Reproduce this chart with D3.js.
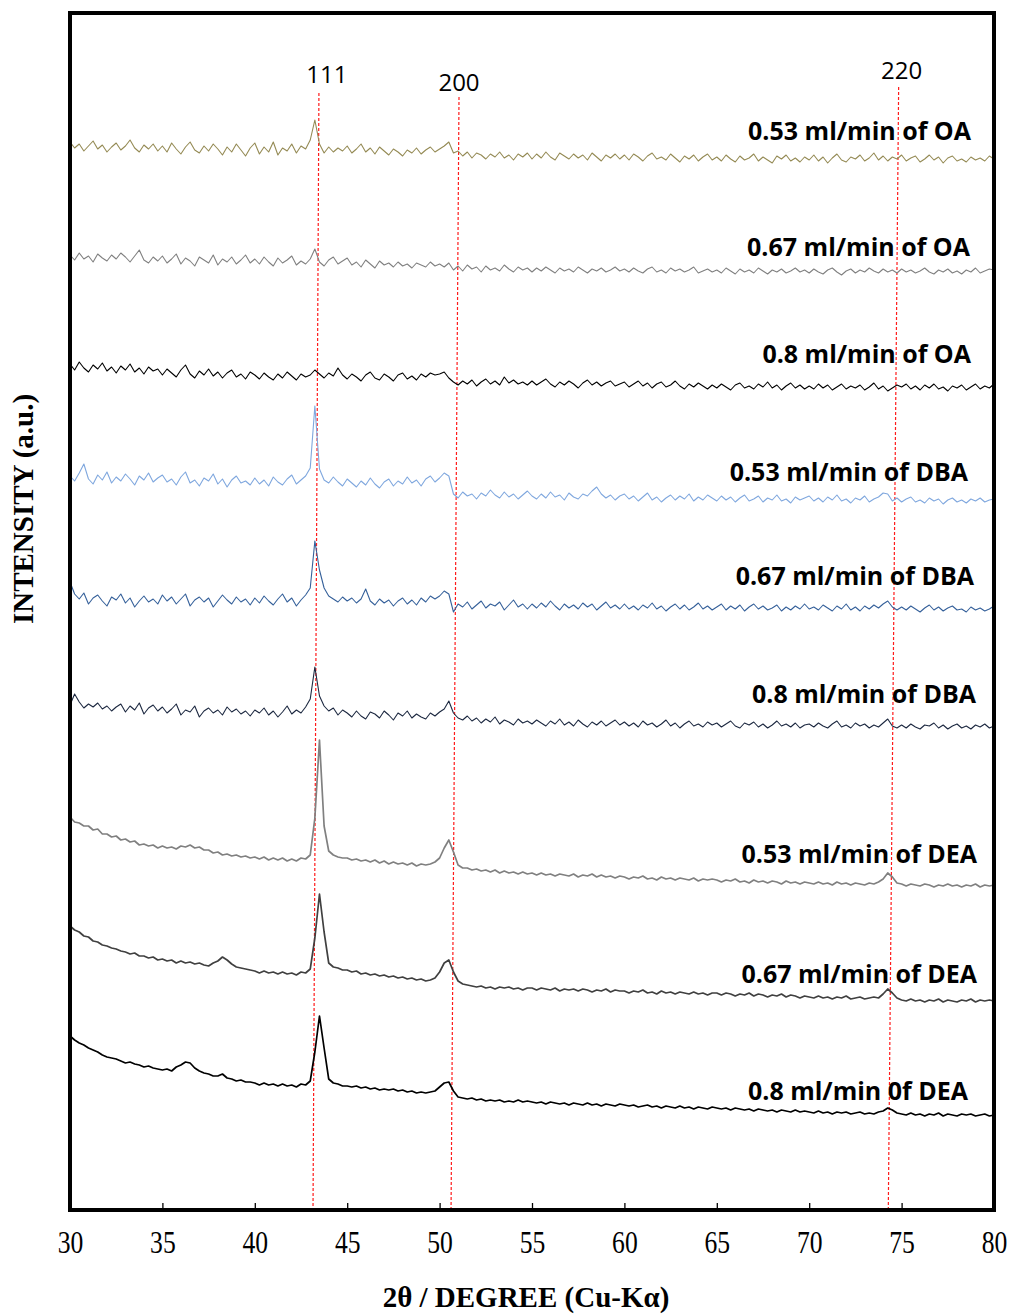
<!DOCTYPE html>
<html>

<head>
  <meta charset="utf8">
  <script src="https://d3js.org/d3.v7.min.js"></script>
  <style>
    body { margin: 0; background: #fff; }
    .tick text { font-family: "Liberation Serif", "Times New Roman", serif; fill: black; }
    .tick line { stroke: black; stroke-width: 1.3; }
    .series-label { font-family: "Open Sans", sans-serif; font-weight: 700; font-size: 25px; }
    .peak-label { font-family: "Open Sans", sans-serif; font-size: 24px; }
    .axis-title { font-family: "Liberation Serif", "Times New Roman", serif; font-weight: 700; }
  </style>
</head>

<body>
  <svg id="chart" width="1011" height="1314"></svg>

  <script>
    // 2-theta sampling of every pattern: 30 to 80 deg, 0.25 deg apart
    var twoThetaStart = 30;
    var twoThetaStep = 0.25;

    var seriesNames = [
      '0.53 ml/min of OA', '0.67 ml/min of OA', '0.8 ml/min of OA',
      '0.53 ml/min of DBA', '0.67 ml/min of DBA', '0.8 ml/min of DBA',
      '0.53 ml/min of DEA', '0.67 ml/min of DEA', '0.8 ml/min 0f DEA'
    ];

    // intensities (a.u., already stacked with their offsets)
    var oa053 = [
      1068,1062,1066,1059,1064,1069,1061,1065,1058,1063,1067,1060,1064,1070,1062,1058,1065,1061,1066,1059,
      1064,1058,1067,1061,1056,1063,1068,1060,1057,1064,1059,1066,1061,1055,1063,1058,1066,1060,1054,1062,
      1067,1056,1063,1058,1068,1055,1062,1059,1066,1057,1064,1061,1070,1090,1066,1057,1063,1058,1062,1059,
      1064,1057,1061,1066,1058,1062,1056,1063,1059,1055,1061,1058,1054,1060,1057,1062,1056,1060,1063,1058,
      1061,1064,1068,1057,1059,1054,1058,1052,1057,1055,1051,1056,1053,1058,1052,1055,1050,1056,1053,1057,
      1051,1056,1052,1058,1053,1050,1057,1054,1051,1056,1052,1055,1050,1057,1053,1049,1055,1052,1056,1051,
      1055,1050,1056,1053,1049,1054,1057,1051,1053,1050,1056,1052,1048,1054,1051,1055,1049,1053,1056,1050,
      1053,1049,1055,1051,1048,1054,1050,1052,1056,1049,1053,1050,1047,1054,1051,1055,1049,1052,1048,1053,
      1050,1055,1049,1053,1047,1052,1056,1050,1048,1053,1051,1055,1049,1052,1057,1050,1054,1049,1053,1051,
      1055,1049,1052,1054,1048,1051,1055,1050,1053,1047,1052,1054,1049,1051,1048,1053,1050,1052,1049,1054,1051
    ];
    var oa067 = [
      955,950,957,951,954,948,956,952,949,955,951,957,953,948,954,960,950,947,953,949,
      954,947,951,956,946,952,949,944,953,950,947,955,945,951,948,953,946,950,955,947,
      951,946,953,948,944,952,947,950,954,945,949,946,951,961,948,944,950,953,946,949,
      952,945,948,943,950,946,942,949,945,947,943,948,944,946,942,947,945,943,948,944,
      946,943,947,940,944,939,945,941,943,938,944,940,942,939,945,941,938,943,940,942,
      938,942,939,943,940,937,942,939,941,938,943,940,937,941,939,942,938,940,943,939,
      941,938,942,939,937,941,943,938,940,937,942,939,941,938,940,943,937,939,941,938,
      940,937,942,939,936,941,938,940,937,942,939,936,940,938,941,937,939,942,938,940,
      937,941,938,936,940,942,938,935,939,941,937,940,938,942,939,937,941,938,940,937,
      941,938,940,937,939,942,938,936,940,938,941,937,939,936,940,938,942,937,939,941,940
    ];
    var oa08 = [
      846,840,848,842,838,845,841,847,839,843,837,844,840,846,838,842,836,843,839,841,
      835,841,837,833,840,845,836,832,839,835,841,834,838,832,837,840,833,836,831,838,
      835,831,837,833,830,836,832,838,834,830,836,833,835,840,836,832,837,834,842,835,
      831,836,833,829,835,838,832,830,836,833,829,835,837,831,834,830,836,833,837,835,
      836,838,832,828,825,829,826,830,824,828,831,826,829,825,833,827,830,826,828,825,
      829,825,828,831,826,823,828,825,829,826,822,827,830,825,828,824,827,829,824,826,
      828,823,826,829,824,827,822,826,828,823,825,829,824,821,826,823,827,824,821,825,
      822,826,823,820,825,827,822,824,821,826,823,828,822,825,820,824,827,822,825,821,
      824,821,826,822,825,820,823,826,821,824,822,825,820,823,827,821,824,819,822,825,
      823,826,821,824,820,825,822,826,821,823,819,824,822,825,820,823,826,821,824,822,826
    ];
    var dba053 = [
      734,729,737,746,731,726,735,730,738,727,733,729,736,731,725,734,730,737,728,732,
      735,728,731,725,733,738,727,730,724,732,729,736,726,731,723,730,734,727,729,725,
      732,726,730,724,733,728,725,731,735,726,730,734,742,804,741,730,727,733,728,724,
      731,727,723,729,725,732,726,722,728,731,724,729,726,733,727,730,724,731,734,728,
      732,737,734,716,712,718,714,716,711,717,714,720,715,712,718,713,716,711,715,719,
      714,711,716,712,718,713,715,710,717,713,711,716,714,719,723,716,712,715,710,714,
      716,711,714,709,713,717,710,713,708,712,715,710,714,711,716,709,713,710,715,712,
      709,714,710,713,708,712,715,709,711,714,708,712,710,715,709,711,707,713,710,712,
      714,709,712,708,713,710,715,709,711,707,712,710,714,708,711,713,717,716,709,712,
      708,711,713,708,710,707,712,709,711,706,710,712,708,710,707,711,709,712,708,710,711
    ];
    var dba067 = [
      628,616,611,617,606,612,615,609,604,613,610,616,607,612,603,609,614,608,611,606,
      615,609,613,606,611,616,604,610,613,608,612,603,609,615,610,606,613,608,611,605,
      612,607,614,609,605,611,616,608,612,604,610,615,622,669,640,622,614,611,608,613,
      609,612,607,611,621,609,605,611,607,610,604,609,612,606,610,605,612,608,614,611,
      614,619,616,598,606,603,608,601,605,609,602,606,604,608,600,605,610,603,606,601,
      606,602,607,603,609,604,600,606,602,605,601,607,603,606,600,604,608,602,605,601,
      606,601,604,600,605,602,607,601,604,599,603,606,601,605,600,603,607,601,604,600,
      603,606,600,604,601,605,599,603,606,601,604,600,602,605,599,603,600,604,601,606,
      601,603,600,605,602,599,604,601,606,600,603,599,604,601,605,602,606,609,603,600,
      603,600,604,601,598,602,605,600,603,599,602,604,600,601,598,603,600,602,599,601,604
    ];
    var dba08 = [
      505,516,508,502,506,503,507,501,504,499,503,506,498,504,500,507,496,502,505,499,
      503,497,501,506,495,500,498,504,493,499,502,497,500,495,503,498,501,496,499,494,
      500,497,502,495,499,493,498,504,496,500,497,503,511,543,514,504,499,502,495,500,
      497,493,499,494,491,498,496,492,499,495,490,497,494,499,492,496,493,491,497,494,
      498,501,509,497,492,490,494,489,492,487,491,488,493,486,490,488,485,491,487,489,
      486,490,487,484,489,486,491,485,488,484,490,486,483,488,485,489,484,487,490,485,
      488,484,487,483,489,485,487,483,486,490,484,487,482,486,489,484,486,483,488,485,
      487,483,486,489,484,482,487,485,488,483,486,482,485,489,484,486,483,487,482,485,
      486,483,487,484,482,486,489,483,485,482,487,484,486,482,485,483,487,491,484,482,
      485,482,486,483,481,485,484,487,482,485,481,484,486,482,484,481,485,483,486,482,484
    ];
    var dea053 = [
      393,388,387,384,384,380,381,376,376,373,374,370,371,368,369,365,366,364,365,362,
      364,362,363,361,364,363,365,362,363,360,360,357,358,355,356,354,355,353,354,352,
      353,351,353,350,352,350,352,349,351,349,352,351,355,392,470,384,359,355,353,352,
      352,350,351,349,350,348,350,347,349,346,348,346,347,345,347,344,346,345,346,348,
      352,362,370,358,345,342,342,340,341,339,340,338,340,337,339,337,338,336,338,336,
      337,335,337,335,336,334,336,335,334,336,333,335,334,336,333,335,333,334,332,334,
      333,331,333,332,334,331,332,330,333,331,332,330,332,331,330,332,329,331,330,331,
      330,328,330,329,331,328,329,327,330,328,329,327,329,328,326,329,327,328,326,328,
      327,326,328,326,327,325,328,326,327,325,327,326,325,327,326,328,331,337,333,327,
      326,324,326,325,324,326,325,323,325,324,326,324,325,323,325,324,326,323,325,324,325
    ];
    var dea067 = [
      284,280,278,274,273,269,268,265,264,262,261,259,258,256,257,254,254,252,253,250,
      251,249,250,247,249,247,248,246,247,245,244,247,249,253,250,246,243,242,241,240,
      239,237,239,237,238,236,238,236,237,235,238,237,241,272,316,278,247,243,242,240,
      240,238,239,236,237,235,236,234,235,233,234,232,233,231,232,230,231,229,230,232,
      238,247,250,238,229,226,225,224,223,224,222,223,221,223,222,223,221,222,220,222,
      222,220,222,221,220,222,219,221,220,221,219,221,220,218,220,219,221,218,220,219,
      219,217,219,218,220,217,218,216,219,217,218,216,218,217,216,218,216,217,215,217,
      217,215,217,216,214,216,215,217,214,216,215,213,215,214,216,213,215,214,212,214,
      213,212,214,212,213,211,213,212,214,211,212,213,211,212,213,212,216,221,217,212,
      210,209,211,209,210,208,210,209,211,208,210,209,208,210,209,211,208,210,209,210,209
    ];
    var dea08 = [
      174,170,167,165,162,160,158,155,153,152,151,149,147,148,146,145,143,144,142,141,
      140,141,139,143,145,148,147,142,139,137,136,134,134,136,132,131,129,130,128,128,
      127,125,127,125,126,124,126,124,125,123,126,125,129,158,194,162,131,127,126,124,
      124,123,124,122,123,121,122,120,121,120,121,119,120,118,119,117,118,117,118,119,
      123,127,128,119,113,112,111,112,110,111,109,110,109,110,108,109,108,110,108,109,
      108,107,108,106,108,107,106,107,105,107,106,105,107,105,106,104,106,105,104,106,
      105,104,105,103,104,105,103,104,102,104,103,102,104,102,103,101,103,102,101,103,
      102,101,102,100,102,101,100,101,99,101,100,99,100,98,100,99,98,100,98,99,
      98,97,99,97,98,96,98,97,98,96,97,98,96,97,96,98,99,102,100,97,
      96,95,97,95,96,94,96,95,97,94,96,95,94,96,95,96,94,95,96,94,95
    ];
    var seriesValues = [oa053, oa067, oa08, dba053, dba067, dba08, dea053, dea067, dea08];

    var xTicks = [30, 35, 40, 45, 50, 55, 60, 65, 70, 75, 80];

    // Cu reflections marked by the red guide lines (2-theta at top and at bottom)
    var peakLabels = ['111', '200', '220'];
    var peakThetaTop = [43.47, 51.05, 74.84];
    var peakThetaBottom = [43.15, 50.62, 74.28];
    var peakTopIntensity = [1117, 1113, 1123];

    // ---- drawing ----
    var chart = d3.select('#chart');
    var margin = { top: 13, right: 17, bottom: 104, left: 70 };
    var width = 1011 - margin.left - margin.right;
    var height = 1314 - margin.top - margin.bottom;

    var x = d3.scaleLinear().domain([30, 80]).range([0, width]);
    var y = d3.scaleLinear().domain([0, height]).range([height, 0]);

    var colors = ['#948a54', '#808080', '#000000', '#7fa7de', '#35609a', '#1c2840', '#808080', '#404040', '#000000'];
    var widths = [1.1, 1.1, 1.1, 1.1, 1.1, 1.1, 1.7, 1.7, 1.7];
    // label anchors (right end, baseline) in px inside the plot
    var labelPos = [[901, 127], [900, 243], [901, 350], [898, 468], [904, 572], [906, 690], [907, 850], [907, 970], [898, 1087]];
    var peakLabelShift = [[8, -10], [0, -6], [3, -8]];

    var g = chart.append('g')
      .attr('transform', 'translate(' + margin.left + ',' + margin.top + ')');

    var line = d3.line()
      .x((d, i) => x(twoThetaStart + i * twoThetaStep))
      .y((d) => y(d));

    // guide lines
    g.selectAll('line.guide')
      .data(peakLabels)
      .enter()
      .append('line')
      .attr('class', 'guide')
      .attr('x1', (d, i) => x(peakThetaTop[i]))
      .attr('y1', (d, i) => y(peakTopIntensity[i]))
      .attr('x2', (d, i) => x(peakThetaBottom[i]))
      .attr('y2', height)
      .attr('stroke', '#ff1a1a')
      .attr('stroke-width', 1.2)
      .attr('stroke-dasharray', '3,2');

    g.selectAll('text.peak-label')
      .data(peakLabels)
      .enter()
      .append('text')
      .attr('class', 'peak-label')
      .attr('x', (d, i) => x(peakThetaTop[i]) + peakLabelShift[i][0])
      .attr('y', (d, i) => y(peakTopIntensity[i]) + peakLabelShift[i][1])
      .attr('text-anchor', 'middle')
      .text((d) => d);

    g.selectAll('path.pattern')
      .data(seriesValues)
      .enter()
      .append('path')
      .attr('class', 'pattern')
      .attr('d', line)
      .attr('fill', 'none')
      .attr('stroke', (d, i) => colors[i])
      .attr('stroke-width', (d, i) => widths[i])
      .attr('stroke-linejoin', 'round');

    g.selectAll('text.series-label')
      .data(seriesNames)
      .enter()
      .append('text')
      .attr('class', 'series-label')
      .attr('x', (d, i) => labelPos[i][0])
      .attr('y', (d, i) => labelPos[i][1])
      .attr('text-anchor', 'end')
      .text((d) => d);

    // x axis: ticks pointing inward
    var xAxis = g.append('g')
      .attr('transform', 'translate(0,' + height + ')')
      .call(d3.axisBottom(x).tickValues(xTicks).tickSizeInner(-7).tickSizeOuter(0).tickPadding(20));
    xAxis.select('.domain').remove();
    xAxis.selectAll('.tick text')
      .attr('font-size', 32)
      .attr('transform', 'scale(0.8,1)');

    // frame
    g.append('rect')
      .attr('width', width)
      .attr('height', height)
      .attr('fill', 'none')
      .attr('stroke', 'black')
      .attr('stroke-width', 4);

    chart.append('text')
      .attr('class', 'axis-title')
      .attr('x', 526)
      .attr('y', 1307)
      .attr('text-anchor', 'middle')
      .attr('font-size', 29)
      .text('2θ / DEGREE (Cu-Kα)');

    chart.append('text')
      .attr('class', 'axis-title')
      .attr('transform', 'translate(33,509) rotate(-90)')
      .attr('text-anchor', 'middle')
      .attr('font-size', 29)
      .text('INTENSITY (a.u.)');
  </script>
</body>

</html>
